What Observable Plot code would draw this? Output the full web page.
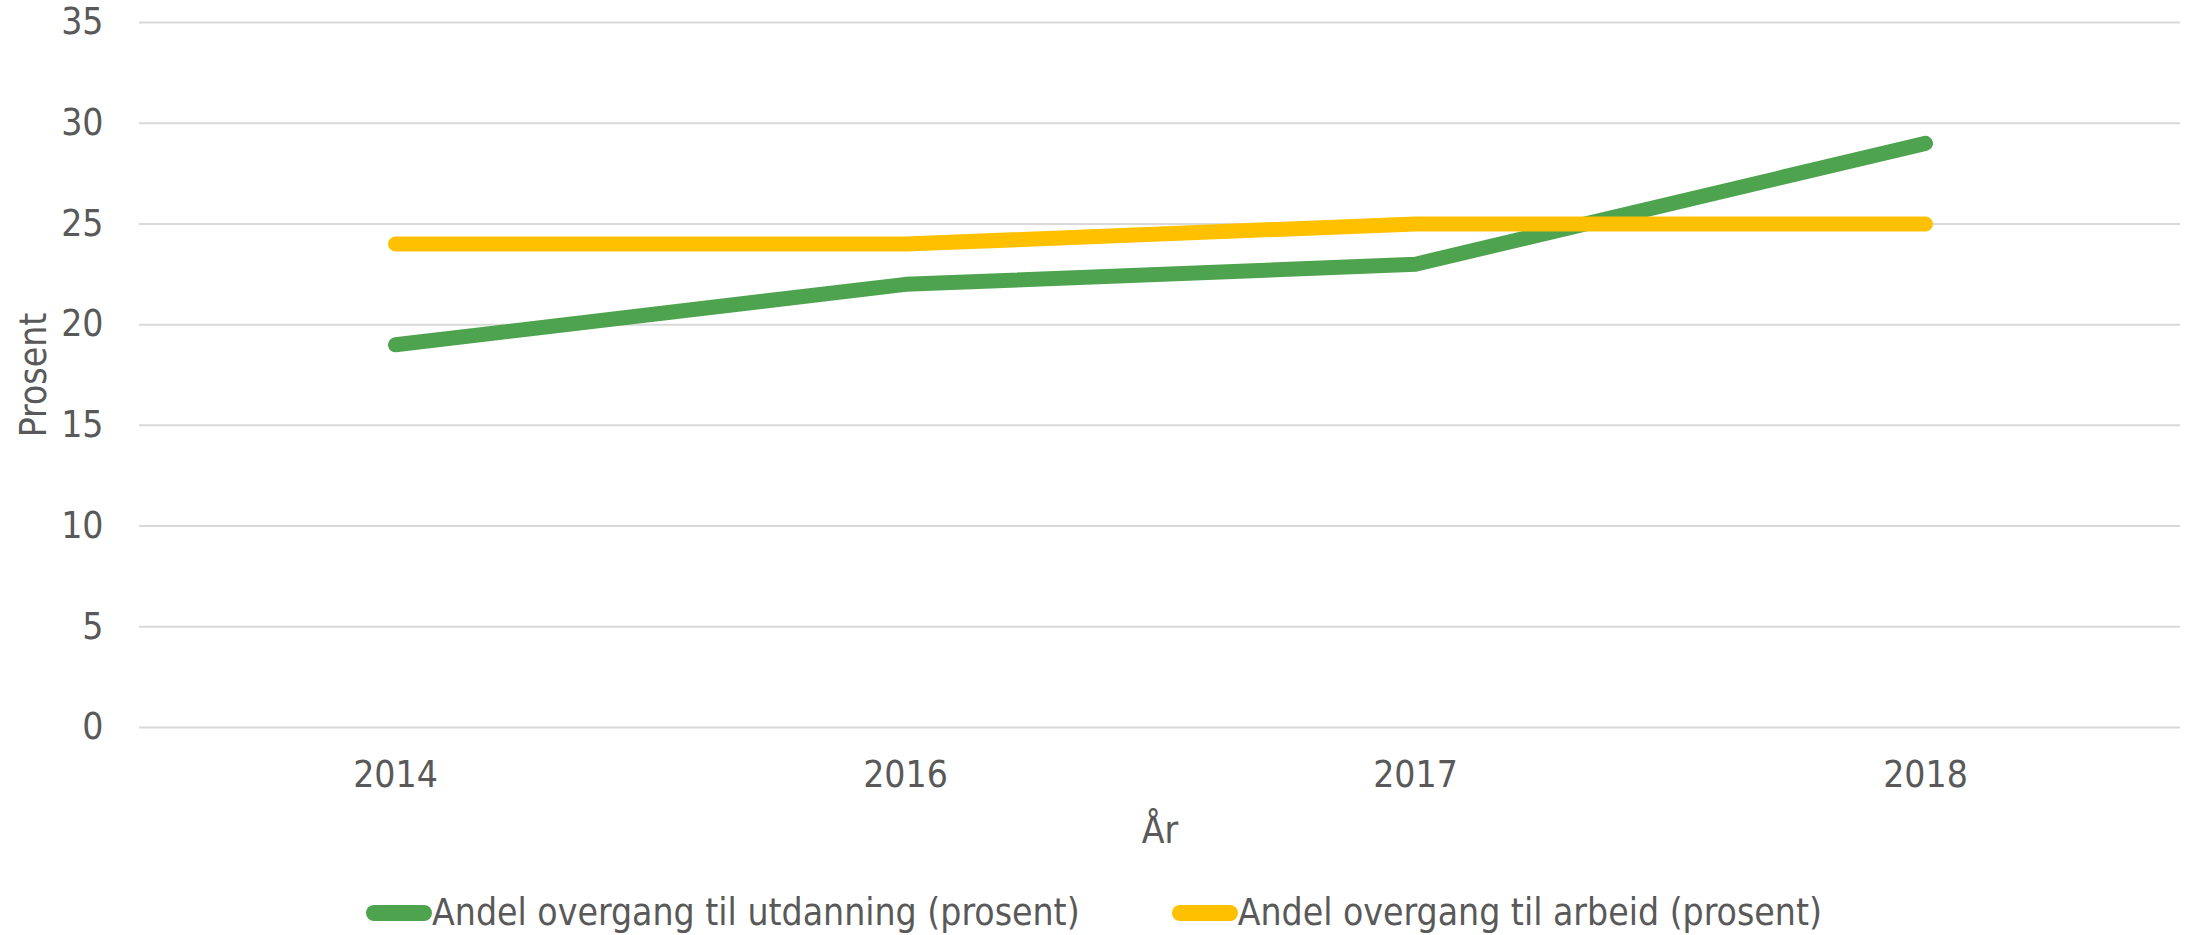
<!DOCTYPE html>
<html>
<head>
<meta charset="utf-8">
<script src="https://cdn.jsdelivr.net/npm/d3@7"></script>
<script src="https://cdn.jsdelivr.net/npm/@observablehq/plot@0.6"></script>
<style>
  html, body { margin: 0; padding: 0; background: #ffffff; }
  body { width: 2188px; height: 935px; overflow: hidden; font-family: "DejaVu Sans Condensed", "DejaVu Sans", sans-serif; font-stretch: condensed; color: #595959; }
  #legend { display: flex; justify-content: center; align-items: center; padding-top: 33px; font-size: 37px; line-height: 40px; }
  .item { display: flex; align-items: center; margin: 0 46px; }
  .sw { display: inline-block; width: 66px; height: 16px; border-radius: 8px; }
</style>
</head>
<body>
<div id="chart"></div>
<div id="legend"></div>
<script>
const years = ["2014", "2016", "2017", "2018"];
const utdanning = [19, 22, 23, 29];
const arbeid = [24, 24, 25, 25];
const seriesNames = ["Andel overgang til utdanning (prosent)", "Andel overgang til arbeid (prosent)"];
const seriesColors = ["#4ea34e", "#ffc000"];
const yTicks = [0, 5, 10, 15, 20, 25, 30, 35];
const yTitle = "Prosent";
const xTitle = "År";

const rows = [];
years.forEach((yr, i) => rows.push({year: yr, value: utdanning[i], series: seriesNames[0]}));
years.forEach((yr, i) => rows.push({year: yr, value: arbeid[i], series: seriesNames[1]}));

const fontFamily = '"DejaVu Sans Condensed", "DejaVu Sans", sans-serif';

const chart = Plot.plot({
  width: 2188,
  height: 860,
  marginLeft: 139,
  marginRight: 8,
  marginTop: 22,
  marginBottom: 133,
  style: {fontFamily, fontSize: "37px", color: "#595959", background: "#ffffff", fontStretch: "condensed"},
  x: {type: "point", domain: years, padding: 0.5, label: null},
  y: {domain: [0, 35], label: null},
  color: {domain: seriesNames, range: seriesColors},
  marks: [
    Plot.gridY(yTicks, {stroke: "#d9d9d9", strokeOpacity: 1, strokeWidth: 2}),
    Plot.axisY(yTicks, {tickSize: 0, tickPadding: 36, label: null, fill: "#595959"}),
    Plot.axisX({tickSize: 0, tickPadding: 33, label: null, fill: "#595959"}),
    Plot.text([yTitle], {frameAnchor: "left", textAnchor: "middle", lineAnchor: "middle", dx: -105, rotate: -90, fill: "#595959", fontSize: 37}),
    Plot.text([xTitle], {frameAnchor: "bottom", textAnchor: "middle", lineAnchor: "middle", dy: 104, fill: "#595959", fontSize: 37}),
    Plot.line(rows, {x: "year", y: "value", z: "series", stroke: "series", strokeWidth: 15, strokeLinecap: "round", strokeLinejoin: "round"})
  ]
});
document.getElementById("chart").appendChild(chart);

const legend = document.getElementById("legend");
seriesNames.forEach((name, i) => {
  const item = document.createElement("div");
  item.className = "item";
  const sw = document.createElement("span");
  sw.className = "sw";
  sw.style.background = seriesColors[i];
  const label = document.createElement("span");
  label.textContent = name;
  item.appendChild(sw);
  item.appendChild(label);
  legend.appendChild(item);
});
</script>
</body>
</html>
